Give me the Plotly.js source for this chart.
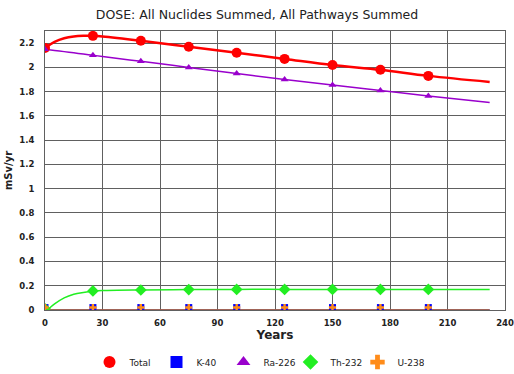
<!DOCTYPE html>
<html>
<head>
<meta charset="utf-8">
<script src="https://cdn.plot.ly/plotly-3.0.1.min.js"></script>
<style>html,body{margin:0;padding:0;background:#fff;}#chart{width:514px;height:374px;}</style>
</head>
<body>
<div id="chart"></div>
<script>
// Line samples (years) and values
const lineYears = [0, 5, 10, 15, 20, 25, 30, 50, 75, 100, 125, 150, 175, 200, 232];
const totalLine = [2.16, 2.21, 2.24, 2.255, 2.26, 2.26, 2.255, 2.22, 2.17, 2.12, 2.07, 2.02, 1.98, 1.93, 1.88];
const ra226Line = [2.15, 2.14, 2.13, 2.12, 2.11, 2.10, 2.09, 2.05, 2.00, 1.95, 1.90, 1.855, 1.81, 1.765, 1.71];
const th232Years = [2, 5, 10, 15, 20, 25, 30, 50, 75, 100, 125, 150, 175, 200, 232];
const th232Line = [0.01, 0.05, 0.10, 0.13, 0.145, 0.155, 0.16, 0.165, 0.168, 0.17, 0.17, 0.17, 0.17, 0.17, 0.17];
const zeroYears = [0, 232];
const k40Line = [0, 0];
const u238Line = [0, 0];

// Marker years and values
const markerYears = [0, 25, 50, 75, 100, 125, 150, 175, 200];
const totalPts = [2.16, 2.26, 2.22, 2.17, 2.12, 2.07, 2.02, 1.98, 1.93];
const ra226Pts = [2.15, 2.10, 2.05, 2.00, 1.95, 1.90, 1.855, 1.81, 1.765];
const th232Pts = [0.01, 0.157, 0.165, 0.168, 0.17, 0.17, 0.17, 0.17, 0.17];
const k40Pts = [0.02, 0.02, 0.02, 0.02, 0.02, 0.02, 0.02, 0.02, 0.02];
const u238Pts = [0.02, 0.02, 0.02, 0.02, 0.02, 0.02, 0.02, 0.02, 0.02];

const seriesNames = ['Total', 'K-40', 'Ra-226', 'Th-232', 'U-238'];

const RED = '#ff0000', BLUE = '#0000ff', PURPLE = '#9900cc', GREEN = '#22ee22', ORANGE = '#ff8c1a';

const traces = [
  {x: zeroYears, y: k40Line, mode: 'lines', line: {color: BLUE, width: 1.5}, showlegend: false},
  {x: zeroYears, y: u238Line, mode: 'lines', line: {color: '#c07020', width: 1.5}, showlegend: false},
  {x: th232Years, y: th232Line, mode: 'lines', line: {color: GREEN, width: 1.5, shape: 'spline'}, showlegend: false},
  {x: lineYears, y: ra226Line, mode: 'lines', line: {color: PURPLE, width: 1.5, shape: 'spline'}, showlegend: false},
  {x: lineYears, y: totalLine, mode: 'lines', line: {color: RED, width: 2.5, shape: 'spline'}, showlegend: false},
  {x: markerYears, y: totalPts, mode: 'markers', name: seriesNames[0], marker: {color: RED, symbol: 'circle', size: 10}},
  {x: markerYears, y: k40Pts, mode: 'markers', name: seriesNames[1], marker: {color: BLUE, symbol: 'square', size: 7}},
  {x: markerYears, y: ra226Pts, mode: 'markers', name: seriesNames[2], marker: {color: PURPLE, symbol: 'triangle-up', size: 7}},
  {x: markerYears, y: th232Pts, mode: 'markers', name: seriesNames[3], marker: {color: GREEN, symbol: 'diamond', size: 9}},
  {x: markerYears, y: u238Pts, mode: 'markers', name: seriesNames[4], marker: {color: ORANGE, symbol: 'cross', size: 6}}
];

const layout = {
  width: 514, height: 374,
  margin: {l: 45, r: 9, t: 31, b: 64},
  paper_bgcolor: '#ffffff', plot_bgcolor: '#ffffff',
  font: {family: 'DejaVu Sans, Verdana, sans-serif', color: '#222'},
  title: {text: 'DOSE: All Nuclides Summed, All Pathways Summed', font: {size: 12.5, color: '#222'},
          x: 0.5, xref: 'container', y: 0.962, yref: 'container', yanchor: 'middle'},
  xaxis: {
    range: [0, 240], dtick: 30, ticklabeloverflow: 'allow',
    showgrid: true, gridcolor: '#606060',
    showline: true, linecolor: '#606060', mirror: true, zerolinecolor: '#606060',
    ticks: 'outside', ticklen: 5, tickcolor: '#ffffff',
    tickfont: {size: 8.5, weight: 'bold'},
    title: {text: 'Years', font: {size: 12, weight: 'bold'}, standoff: 1}
  },
  yaxis: {
    range: [0, 2.3], dtick: 0.2,
    showgrid: true, gridcolor: '#606060',
    showline: true, linecolor: '#606060', mirror: true, zerolinecolor: '#606060',
    ticks: 'outside', ticklen: 8, tickcolor: '#ffffff',
    tickfont: {size: 8.5, weight: 'bold'},
    title: {text: 'mSv/yr', font: {size: 10, weight: 'bold'}, standoff: 4}
  },
  legend: {orientation: 'h', xref: 'container', yref: 'container', x: 0.5, xanchor: 'center',
           y: 0.032, yanchor: 'middle', font: {size: 9}, itemsizing: 'constant',
           entrywidth: 22},
  showlegend: true
};

Plotly.newPlot('chart', traces, layout, {staticPlot: true});
</script>
</body>
</html>
